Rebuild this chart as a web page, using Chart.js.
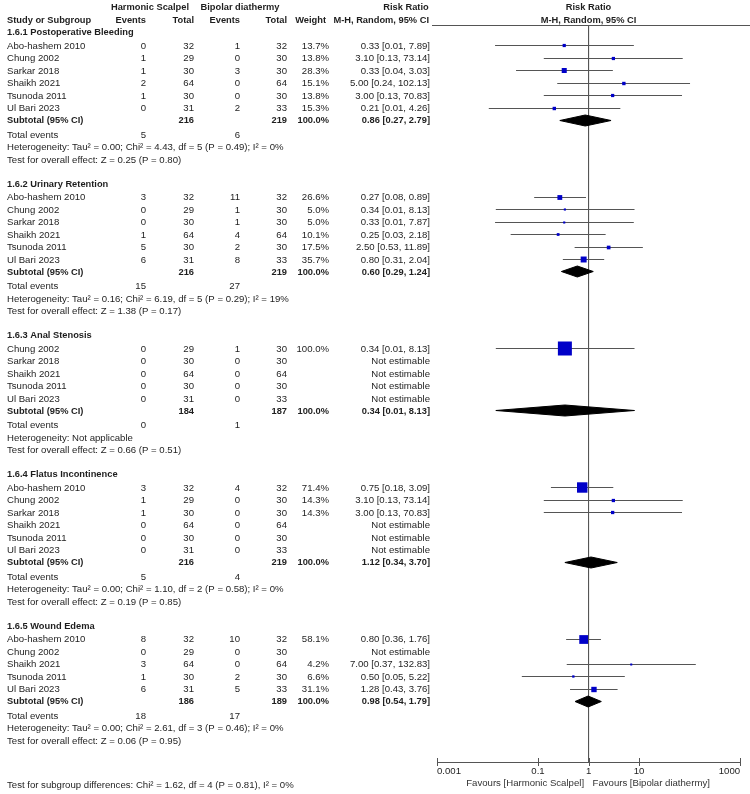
<!DOCTYPE html>
<html>
<head>
<meta charset="utf-8">
<script src="https://cdn.jsdelivr.net/npm/chart.js@4.4.1/dist/chart.umd.min.js"></script>
<style>
  html, body { margin: 0; padding: 0; background: #fff; }
  canvas { display: block; }
</style>
</head>
<body>
<canvas id="forestChart" width="750" height="794"></canvas>
<script>
/* ===============================
   DATA
================================ */

const groupTitles = [
  "1.6.1 Postoperative Bleeding",
  "1.6.2 Urinary Retention",
  "1.6.3 Anal Stenosis",
  "1.6.4 Flatus Incontinence",
  "1.6.5 Wound Edema",
];

// one entry per study row, studyGroup says which subgroup it is in
const studyGroup = [0, 0, 0, 0, 0, 0, 1, 1, 1, 1, 1, 1, 2, 2, 2, 2, 2, 3, 3, 3, 3, 3, 3, 4, 4, 4, 4, 4];
const studyNames = [
  "Abo-hashem 2010", "Chung 2002", "Sarkar 2018", "Shaikh 2021", "Tsunoda 2011", "Ul Bari 2023",
  "Abo-hashem 2010", "Chung 2002", "Sarkar 2018", "Shaikh 2021", "Tsunoda 2011", "Ul Bari 2023",
  "Chung 2002", "Sarkar 2018", "Shaikh 2021", "Tsunoda 2011", "Ul Bari 2023",
  "Abo-hashem 2010", "Chung 2002", "Sarkar 2018", "Shaikh 2021", "Tsunoda 2011", "Ul Bari 2023",
  "Abo-hashem 2010", "Chung 2002", "Shaikh 2021", "Tsunoda 2011", "Ul Bari 2023",
];
const hsEvents = [0, 1, 1, 2, 1, 0, 3, 0, 0, 1, 5, 6, 0, 0, 0, 0, 0, 3, 1, 1, 0, 0, 0, 8, 0, 3, 1, 6];
const hsTotal = [32, 29, 30, 64, 30, 31, 32, 29, 30, 64, 30, 31, 29, 30, 64, 30, 31, 32, 29, 30, 64, 30, 31, 32, 29, 64, 30, 31];
const bdEvents = [1, 0, 3, 0, 0, 2, 11, 1, 1, 4, 2, 8, 1, 0, 0, 0, 0, 4, 0, 0, 0, 0, 0, 10, 0, 0, 2, 5];
const bdTotal = [32, 30, 30, 64, 30, 33, 32, 30, 30, 64, 30, 33, 30, 30, 64, 30, 33, 32, 30, 30, 64, 30, 33, 32, 30, 64, 30, 33];
const weights = [13.7, 13.8, 28.3, 15.1, 13.8, 15.3, 26.6, 5.0, 5.0, 10.1, 17.5, 35.7, 100.0, null, null, null, null,
  71.4, 14.3, 14.3, null, null, null, 58.1, null, 4.2, 6.6, 31.1];
// null = Not estimable
const riskRatio = [0.33, 3.10, 0.33, 5.00, 3.00, 0.21, 0.27, 0.34, 0.33, 0.25, 2.50, 0.80, 0.34, null, null, null, null,
  0.75, 3.10, 3.00, null, null, null, 0.80, null, 7.00, 0.50, 1.28];
const ciLow = [0.0141, 0.13, 0.0367, 0.24, 0.13, 0.0106, 0.0839, 0.0146, 0.0141, 0.0287, 0.53, 0.31, 0.0146, null, null, null, null,
  0.18, 0.13, 0.13, null, null, null, 0.36, null, 0.37, 0.0478, 0.43];
const ciHigh = [7.89, 73.14, 3.03, 102.13, 70.83, 4.26, 0.89, 8.13, 7.87, 2.18, 11.89, 2.04, 8.13, null, null, null, null,
  3.09, 73.14, 70.83, null, null, null, 1.76, null, 132.83, 5.22, 3.76];

// subgroup totals
const subHsTotal = [216, 216, 184, 216, 186];
const subBdTotal = [219, 219, 187, 219, 189];
const subRR = [0.86, 0.60, 0.34, 1.12, 0.98];
const subLow = [0.27, 0.29, 0.0146, 0.34, 0.54];
const subHigh = [2.79, 1.24, 8.13, 3.70, 1.79];
const hsTotalEvents = [5, 15, 0, 5, 18];
const bdTotalEvents = [6, 27, 1, 4, 17];
const heterogeneity = [
  "Heterogeneity: Tau² = 0.00; Chi² = 4.43, df = 5 (P = 0.49); I² = 0%",
  "Heterogeneity: Tau² = 0.16; Chi² = 6.19, df = 5 (P = 0.29); I² = 19%",
  "Heterogeneity: Not applicable",
  "Heterogeneity: Tau² = 0.00; Chi² = 1.10, df = 2 (P = 0.58); I² = 0%",
  "Heterogeneity: Tau² = 0.00; Chi² = 2.61, df = 3 (P = 0.46); I² = 0%",
];
const overallEffect = [
  "Test for overall effect: Z = 0.25 (P = 0.80)",
  "Test for overall effect: Z = 1.38 (P = 0.17)",
  "Test for overall effect: Z = 0.66 (P = 0.51)",
  "Test for overall effect: Z = 0.19 (P = 0.85)",
  "Test for overall effect: Z = 0.06 (P = 0.95)",
];
const subgroupTest = "Test for subgroup differences: Chi² = 1.62, df = 4 (P = 0.81), I² = 0%";

const axisTicks = [0.001, 0.1, 1, 10, 1000];
const favoursLeft = "Favours [Harmonic Scalpel]";
const favoursRight = "Favours [Bipolar diathermy]";

/* ===============================
   ROW LAYOUT (pixel rows)
================================ */

const FONT = "'Liberation Sans', Arial, sans-serif";
const NORMAL = "9.6px " + FONT;
const BOLD = "bold 9.3px " + FONT;
const TEXT = "#1e1e1e";
const LINE = "#555";
const BLUE = "#0000c8";

const AXIS_Y = 762;
const HEAD_LINE_Y = 25.5;
const TEXT_NUDGE = 0.7; // middle baseline sits a touch high

const rowY = { header: [], study: [], subtotal: [], totals: [], het: [], effect: [] };
let cur = 32;
groupTitles.forEach((t, g) => {
  rowY.header[g] = cur;
  cur += 13.5;
  let first = true;
  studyGroup.forEach((sg, i) => {
    if (sg !== g) return;
    if (!first) cur += 12.5;
    rowY.study[i] = cur;
    first = false;
  });
  cur += 12;
  rowY.subtotal[g] = cur;
  cur += 14.5;
  rowY.totals[g] = cur;
  cur += 12.5;
  rowY.het[g] = cur;
  cur += 12.5;
  rowY.effect[g] = cur;
  cur += 24;
});

const crisp = (v) => Math.floor(v) + 0.5;

/* ===============================
   DATASETS
================================ */

// squares, side grows with weight
const squarePoints = [];
const squareRadius = [];
studyNames.forEach((n, i) => {
  if (riskRatio[i] == null) return;
  squarePoints.push({ x: riskRatio[i], y: crisp(rowY.study[i]) });
  const side = 1.5 + 12.5 * weights[i] / 100;
  squareRadius.push(side / Math.SQRT2);
});

const datasets = [
  {
    type: "scatter",
    data: squarePoints,
    pointStyle: "rect",
    pointRadius: squareRadius,
    pointBackgroundColor: BLUE,
    pointBorderColor: BLUE,
    pointBorderWidth: 0,
  },
];

// diamonds for subtotals
groupTitles.forEach((t, g) => {
  const yy = crisp(rowY.subtotal[g]);
  datasets.push({
    type: "line",
    data: [
      { x: subLow[g], y: yy },
      { x: subRR[g], y: yy - 5.5 },
      { x: subHigh[g], y: yy },
      { x: subRR[g], y: yy + 5.5 },
      { x: subLow[g], y: yy },
    ],
    fill: "shape",
    backgroundColor: "#000",
    borderColor: "#000",
    borderWidth: 1,
    pointRadius: 0,
    tension: 0,
  });
});

// confidence intervals
studyNames.forEach((n, i) => {
  if (riskRatio[i] == null) return;
  const yy = crisp(rowY.study[i]);
  datasets.push({
    type: "line",
    data: [{ x: ciLow[i], y: yy }, { x: ciHigh[i], y: yy }],
    borderColor: LINE,
    borderWidth: 1,
    pointRadius: 0,
    fill: false,
  });
});

// line of no effect
datasets.push({
  type: "line",
  data: [{ x: 1, y: HEAD_LINE_Y }, { x: 1, y: AXIS_Y }],
  borderColor: LINE,
  borderWidth: 1,
  pointRadius: 0,
  fill: false,
});

/* ===============================
   TABLE TEXT PLUGIN
================================ */

const COL = { name: 7, hsEv: 146, hsTot: 194, bdEv: 240, bdTot: 287, weight: 329, rr: 430 };

const fmtCI = (e, lo, hi) => e.toFixed(2) + " [" + lo.toFixed(2) + ", " + hi.toFixed(2) + "]";

const tablePlugin = {
  id: "forestTable",
  afterDraw(chart) {
    const ctx = chart.ctx;
    const xs = chart.scales.x;
    const ys = chart.scales.y;
    const mid = xs.getPixelForValue(1);
    const axisPx = ys.getPixelForValue(AXIS_Y);

    const put = (str, x, yv, align, bold, color) => {
      ctx.font = bold ? BOLD : NORMAL;
      ctx.fillStyle = color || TEXT;
      ctx.textAlign = align || "left";
      ctx.textBaseline = "middle";
      ctx.fillText(str, x, ys.getPixelForValue(yv) + TEXT_NUDGE);
    };

    ctx.save();

    // headers
    put("Harmonic Scalpel", 150, 7, "center", true);
    put("Bipolar diathermy", 240, 7, "center", true);
    put("Risk Ratio", 406, 7, "center", true);
    put("Risk Ratio", mid, 7, "center", true);
    put("Study or Subgroup", COL.name, 20, "left", true);
    put("Events", COL.hsEv, 20, "right", true);
    put("Total", COL.hsTot, 20, "right", true);
    put("Events", COL.bdEv, 20, "right", true);
    put("Total", COL.bdTot, 20, "right", true);
    put("Weight", COL.weight - 3, 20, "right", true);
    put("M-H, Random, 95% CI", COL.rr - 1, 20, "right", true);
    put("M-H, Random, 95% CI", mid, 20, "center", true);

    const headPx = Math.floor(ys.getPixelForValue(HEAD_LINE_Y)) + 0.5;
    ctx.strokeStyle = LINE;
    ctx.lineWidth = 1;
    ctx.beginPath();
    ctx.moveTo(432, headPx);
    ctx.lineTo(750, headPx);
    ctx.stroke();

    groupTitles.forEach((title, g) => {
      put(title, COL.name, rowY.header[g], "left", true);

      studyNames.forEach((name, i) => {
        if (studyGroup[i] !== g) return;
        const yv = rowY.study[i];
        put(name, COL.name, yv, "left");
        put(String(hsEvents[i]), COL.hsEv, yv, "right");
        put(String(hsTotal[i]), COL.hsTot, yv, "right");
        put(String(bdEvents[i]), COL.bdEv, yv, "right");
        put(String(bdTotal[i]), COL.bdTot, yv, "right");
        if (riskRatio[i] == null) {
          put("Not estimable", COL.rr, yv, "right");
        } else {
          put(weights[i].toFixed(1) + "%", COL.weight, yv, "right");
          put(fmtCI(riskRatio[i], ciLow[i], ciHigh[i]), COL.rr, yv, "right");
        }
      });

      const sy = rowY.subtotal[g];
      put("Subtotal (95% CI)", COL.name, sy, "left", true);
      put(String(subHsTotal[g]), COL.hsTot, sy, "right", true);
      put(String(subBdTotal[g]), COL.bdTot, sy, "right", true);
      put("100.0%", COL.weight, sy, "right", true);
      put(fmtCI(subRR[g], subLow[g], subHigh[g]), COL.rr, sy, "right", true);

      put("Total events", COL.name, rowY.totals[g], "left");
      put(String(hsTotalEvents[g]), COL.hsEv, rowY.totals[g], "right");
      put(String(bdTotalEvents[g]), COL.bdEv, rowY.totals[g], "right");
      put(heterogeneity[g], COL.name, rowY.het[g], "left");
      put(overallEffect[g], COL.name, rowY.effect[g], "left");
    });

    // axis tick marks crossing the axis line
    const ap = Math.round(axisPx);
    ctx.strokeStyle = LINE;
    ctx.beginPath();
    xs.ticks.forEach((t) => {
      const px = Math.round(xs.getPixelForValue(t.value)) + 0.5;
      ctx.moveTo(px, ap - 4);
      ctx.lineTo(px, ap + 4);
    });
    ctx.stroke();

    put(favoursLeft, mid - 4.5, AXIS_Y + 20.5, "right", false, "#333");
    put(favoursRight, mid + 4, AXIS_Y + 20.5, "left", false, "#333");
    put(subgroupTest, COL.name, AXIS_Y + 23, "left");

    ctx.restore();
  },
};

/* ===============================
   CHART
================================ */

const el = document.getElementById("forestChart");

if (el) {
  const chart = new Chart(el, {
    data: { datasets },
    options: {
      responsive: false,
      animation: false,
      events: [],
      layout: { padding: { left: 437, right: 8, top: 0, bottom: 0 } },
      plugins: {
        legend: { display: false },
        tooltip: { enabled: false },
      },
      scales: {
        x: {
          type: "logarithmic",
          min: 0.001,
          max: 1000,
          position: { y: AXIS_Y },
          afterBuildTicks: (s) => {
            s.ticks = axisTicks.map((v) => ({ value: v }));
          },
          ticks: {
            autoSkip: false,
            maxRotation: 0,
            align: "inner",
            padding: 4,
            color: TEXT,
            font: { family: FONT, size: 9.6 },
            callback: (v) => String(v),
          },
          grid: { display: true, drawOnChartArea: false, drawTicks: false },
          border: { display: true, color: LINE, width: 1 },
        },
        y: {
          type: "linear",
          min: 0,
          max: 794,
          reverse: true,
          display: false,
        },
      },
    },
    plugins: [tablePlugin],
  });

  // make the row scale match canvas pixels, whatever room the layout kept
  const area = chart.chartArea;
  chart.options.scales.y.min = area.top;
  chart.options.scales.y.max = area.bottom;
  chart.update();
}
</script>
</body>
</html>
